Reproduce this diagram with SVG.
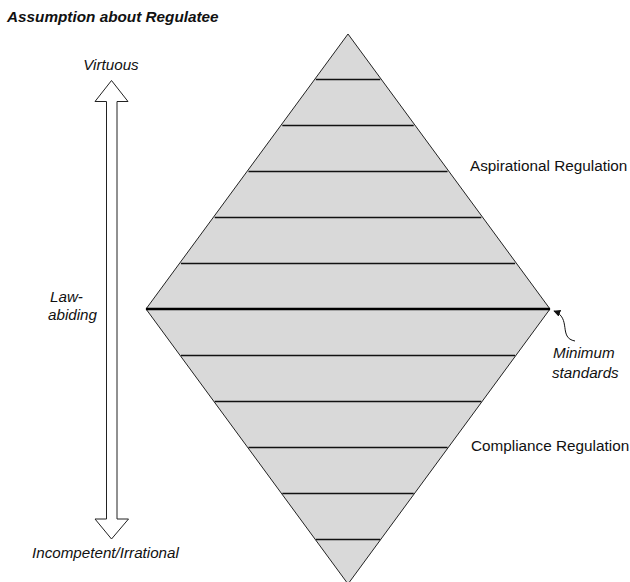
<svg xmlns="http://www.w3.org/2000/svg" width="630" height="582" viewBox="0 0 630 582">
<style>
text{font-family:"Liberation Sans",Arial,sans-serif;fill:#111}
.it{font-style:italic;font-size:15.2px}
.lbl{font-size:15.3px}
.band{stroke:#111;stroke-width:1.3}
.edge{fill:none;stroke:#111;stroke-width:1}
</style>
<defs>
<marker id="ah" viewBox="0 0 10 10" refX="9" refY="5" markerWidth="7" markerHeight="7" orient="auto" markerUnits="userSpaceOnUse">
<path d="M0,0 L10,5 L0,10 Z" fill="#111"/>
</marker>
</defs>
<rect width="630" height="582" fill="#fff"/>
<g id="title"><text x="7" y="22" font-weight="bold" font-style="italic" font-size="15.3">Assumption about Regulatee</text></g>
<g id="diamond">
<polygon points="348,34 550,309 348,584 146,309" fill="#d9d9d9" stroke="#222" stroke-width="1"/>
<line class="band" x1="315.8" y1="79.5" x2="380.2" y2="79.5"/>
<line class="band" x1="282.3" y1="125.5" x2="413.7" y2="125.5"/>
<line class="band" x1="248.5" y1="171.5" x2="447.5" y2="171.5"/>
<line class="band" x1="214.7" y1="217.5" x2="481.3" y2="217.5"/>
<line class="band" x1="180.9" y1="263.5" x2="515.1" y2="263.5"/>
<line x1="146" y1="309" x2="550" y2="309" stroke="#000" stroke-width="2.5"/>
<line class="band" x1="180.9" y1="355.5" x2="515.1" y2="355.5"/>
<line class="band" x1="214.7" y1="401.5" x2="481.3" y2="401.5"/>
<line class="band" x1="248.5" y1="447.5" x2="447.5" y2="447.5"/>
<line class="band" x1="282.3" y1="493.5" x2="413.7" y2="493.5"/>
<line class="band" x1="315.8" y1="539.5" x2="380.2" y2="539.5"/>
</g>
<g id="scale-arrow">
<polygon points="111.5,80.5 128,101.5 117,101.5 117,519 128.5,519 111.5,539 95,519 106.5,519 106.5,101.5 95,101.5" fill="#fff" stroke="#222" stroke-width="1"/>
</g>
<g id="connectors">
<path class="edge" d="M575,341 C558,338 572,318 554,311" marker-end="url(#ah)"/>
</g>
<g id="virtuous"><text class="it" x="111" y="70" text-anchor="middle">Virtuous</text></g>
<g id="law-abiding"><text class="it" x="50" y="302">Law-</text><text class="it" x="48" y="320">abiding</text></g>
<g id="incompetent"><text class="it" x="32" y="558">Incompetent/Irrational</text></g>
<g id="aspirational"><text class="lbl" x="470" y="171">Aspirational Regulation</text></g>
<g id="compliance"><text class="lbl" x="471" y="451">Compliance Regulation</text></g>
<g id="minimum"><text class="it" x="553" y="358">Minimum</text><text class="it" x="552" y="378">standards</text></g>
</svg>
